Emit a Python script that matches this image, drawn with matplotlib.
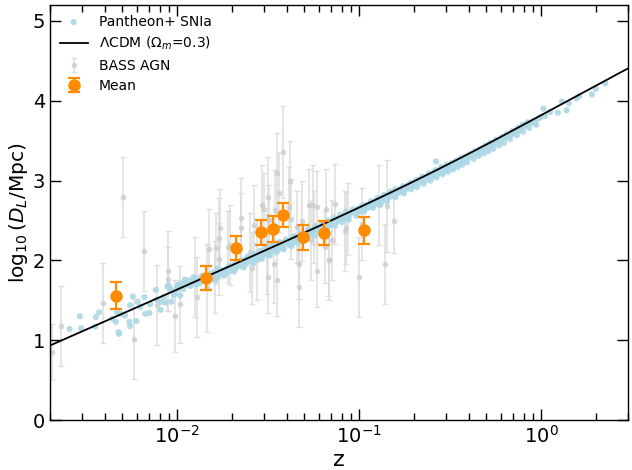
import numpy as np
import matplotlib
matplotlib.use("Agg")
import matplotlib.pyplot as plt

# ---------------- data ----------------
# Pantheon+ SNIa (redshift, log10 D_L / Mpc)
sn_z = [0.00256, 0.00292, 0.00297, 0.00357, 0.00372, 0.00354, 0.00439, 0.00460, 0.00467, 0.00477,
        0.00480, 0.00489, 0.00517, 0.00551, 0.00546, 0.00551, 0.00571, 0.00596, 0.00607, 0.00627,
        0.00661, 0.00668, 0.00705, 0.00710, 0.00763, 0.00773, 0.00810, 0.00816, 0.00842, 0.00862,
        0.00885, 0.00914, 0.00929, 0.00958, 0.00986, 0.0101, 0.00895, 0.0092, 0.0097, 0.0100,
        0.0104, 0.0104, 0.0110, 0.0115, 0.0123, 0.0132, 0.0137, 0.0152, 0.0159, 0.0162, 0.0166,
        0.0105, 0.011, 0.0115, 0.012, 0.0125, 0.013, 0.0135, 0.014, 0.0145, 0.015,
        0.0155, 0.016, 0.0165, 0.017, 0.0175, 0.018, 0.0185, 0.019, 0.0195, 0.020,
        0.0205, 0.021, 0.0215, 0.022, 0.023, 0.0235, 0.024, 0.025, 0.0255, 0.026,
        0.027, 0.0275, 0.028, 0.029, 0.0295, 0.030, 0.031, 0.032, 0.033, 0.034,
        0.035, 0.036, 0.037, 0.038, 0.039, 0.040, 0.042, 0.043, 0.045, 0.046,
        0.048, 0.050, 0.052, 0.054, 0.056, 0.058, 0.060, 0.062, 0.065, 0.068,
        0.070, 0.073, 0.076, 0.080, 0.083, 0.086, 0.090, 0.094, 0.098,
        0.0108, 0.0118, 0.0128, 0.0138, 0.0148, 0.0158, 0.0168, 0.0178, 0.0188, 0.0198,
        0.021, 0.0225, 0.024, 0.0258, 0.0275, 0.029, 0.031, 0.0325, 0.034, 0.036,
        0.038, 0.041, 0.044, 0.047, 0.051, 0.055, 0.059, 0.064, 0.069, 0.075,
        0.081, 0.088, 0.095, 0.0225, 0.032, 0.044, 0.063,
        0.100, 0.102, 0.105, 0.108, 0.110, 0.113, 0.115, 0.118, 0.120, 0.123,
        0.125, 0.128, 0.130, 0.133, 0.136, 0.140, 0.143, 0.146, 0.150, 0.153,
        0.156, 0.160, 0.163, 0.166, 0.170, 0.175, 0.180, 0.185, 0.190, 0.195,
        0.200, 0.205, 0.210, 0.215, 0.220, 0.225, 0.230, 0.235, 0.240, 0.245,
        0.250, 0.255, 0.260, 0.265, 0.270, 0.275, 0.280, 0.290, 0.300, 0.310,
        0.320, 0.330, 0.340, 0.350, 0.360, 0.370, 0.380, 0.390, 0.400, 0.420,
        0.440, 0.460, 0.480, 0.500, 0.520, 0.540, 0.560, 0.580, 0.600, 0.620,
        0.650, 0.680, 0.700, 0.730, 0.760, 0.800, 0.850, 0.900, 0.940, 1.030,
        1.050, 1.120, 1.235, 1.300, 1.380, 1.420, 1.570, 1.620, 1.900, 2.000, 2.250,
        0.101, 0.107, 0.112, 0.117, 0.122, 0.127, 0.132, 0.138, 0.144, 0.148,
        0.155, 0.162, 0.168, 0.172, 0.178, 0.183, 0.188, 0.198, 0.203, 0.212,
        0.218, 0.228, 0.238, 0.248, 0.258, 0.268, 0.278, 0.285, 0.295, 0.305,
        0.315, 0.325, 0.335, 0.345, 0.355, 0.365, 0.375, 0.385, 0.395, 0.410,
        0.430, 0.450, 0.470, 0.490, 0.510, 0.530, 0.550, 0.570, 0.590, 0.610,
        0.630, 0.660, 0.690, 0.720, 0.750, 0.780, 0.820, 0.870, 0.920, 0.970, 1.000, 0.264,
        0.0152, 0.0172, 0.0192, 0.0215, 0.0245, 0.0265, 0.0285, 0.0305, 0.0335, 0.0365,
        0.0395, 0.0435, 0.0475, 0.0525, 0.0575, 0.0625, 0.0675, 0.0725, 0.0785, 0.0845,
        0.0925, 0.104, 0.116, 0.126, 0.137, 0.149, 0.158, 0.174, 0.192, 0.207,
        0.222, 0.242, 0.262, 0.282, 0.302, 0.322, 0.342, 0.362, 0.382, 0.405,
        0.435, 0.465, 0.495, 0.525, 0.565, 0.605, 0.645, 0.695, 0.745, 0.790, 0.840,
        0.0162, 0.0182, 0.0205, 0.0232, 0.0262, 0.0292, 0.0322, 0.0352, 0.0385, 0.0425,
        0.0465, 0.0515, 0.0565, 0.0615, 0.0665, 0.0735, 0.0805, 0.0875, 0.0965, 0.106,
        0.119, 0.131, 0.142, 0.158, 0.176, 0.193, 0.208, 0.226, 0.246, 0.266,
        0.288, 0.308, 0.328, 0.348, 0.368, 0.392, 0.425, 0.455, 0.485, 0.515,
        0.545, 0.585, 0.625, 0.675, 0.735, 0.795, 0.860, 0.930]
sn_y = [1.14, 1.30, 1.15, 1.29, 1.35, 1.17, 1.27, 1.23, 1.35, 1.10,
        1.08, 1.33, 1.31, 1.44, 1.23, 1.175, 1.55, 1.24, 1.48, 1.42,
        1.54, 1.33, 1.34, 1.45, 1.63, 1.51, 1.38, 1.48, 1.54, 1.47,
        1.67, 1.65, 1.48, 1.56, 1.625, 1.69, 1.69, 1.625, 1.58, 1.67,
        1.71, 1.56, 1.76, 1.75, 1.79, 1.71, 1.81, 1.79, 1.85, 1.75, 1.90,
        1.66, 1.70, 1.69, 1.74, 1.72, 1.75, 1.78, 1.76, 1.79, 1.80,
        1.83, 1.81, 1.85, 1.84, 1.87, 1.85, 1.89, 1.88, 1.91, 1.92,
        1.95, 1.93, 1.97, 1.95, 1.99, 1.97, 2.02, 2.01, 2.05, 2.03,
        2.06, 2.04, 2.08, 2.07, 2.11, 2.10, 2.13, 2.12, 2.16, 2.15,
        2.18, 2.17, 2.21, 2.19, 2.23, 2.22, 2.26, 2.24, 2.29, 2.27,
        2.32, 2.31, 2.35, 2.34, 2.38, 2.37, 2.41, 2.40, 2.45, 2.44,
        2.48, 2.47, 2.52, 2.53, 2.57, 2.56, 2.60, 2.60, 2.64,
        1.64, 1.68, 1.70, 1.74, 1.76, 1.78, 1.80, 1.83, 1.85, 1.87,
        1.90, 1.93, 1.96, 1.99, 2.02, 2.04, 2.07, 2.10, 2.12, 2.14,
        2.16, 2.20, 2.23, 2.26, 2.30, 2.33, 2.36, 2.40, 2.44, 2.48,
        2.52, 2.56, 2.59, 2.00, 2.17, 2.30, 2.45,
        2.64, 2.66, 2.65, 2.69, 2.68, 2.70, 2.69, 2.73, 2.72, 2.74,
        2.75, 2.76, 2.77, 2.78, 2.80, 2.79, 2.82, 2.83, 2.82, 2.85,
        2.84, 2.87, 2.86, 2.89, 2.88, 2.91, 2.92, 2.94, 2.93, 2.96,
        2.97, 2.99, 2.98, 3.01, 3.00, 3.03, 3.02, 3.05, 3.04, 3.07,
        3.06, 3.09, 3.08, 3.11, 3.10, 3.13, 3.12, 3.15, 3.16, 3.17,
        3.19, 3.20, 3.22, 3.23, 3.25, 3.26, 3.28, 3.29, 3.31, 3.33,
        3.36, 3.38, 3.41, 3.42, 3.45, 3.46, 3.49, 3.50, 3.52, 3.54,
        3.56, 3.59, 3.61, 3.62, 3.66, 3.68, 3.72, 3.74, 3.70, 3.90,
        3.81, 3.86, 3.85, 3.99, 3.88, 3.97, 4.03, 4.06, 4.08, 4.15, 4.22,
        2.61, 2.64, 2.66, 2.69, 2.70, 2.73, 2.74, 2.77, 2.79, 2.80,
        2.82, 2.84, 2.86, 2.87, 2.89, 2.90, 2.92, 2.94, 2.95, 2.97,
        2.99, 3.00, 3.02, 3.04, 3.06, 3.08, 3.10, 3.11, 3.13, 3.15,
        3.16, 3.18, 3.19, 3.21, 3.22, 3.23, 3.25, 3.26, 3.28, 3.30,
        3.32, 3.35, 3.37, 3.39, 3.41, 3.43, 3.46, 3.47, 3.49, 3.51,
        3.53, 3.55, 3.58, 3.60, 3.63, 3.65, 3.69, 3.72, 3.75, 3.78, 3.80, 3.24,
        1.83, 1.88, 1.93, 1.98, 2.05, 2.08, 2.12, 2.15, 2.19, 2.23,
        2.26, 2.30, 2.34, 2.39, 2.43, 2.46, 2.50, 2.53, 2.57, 2.61,
        2.64, 2.69, 2.74, 2.78, 2.82, 2.86, 2.89, 2.93, 2.97, 3.01,
        3.05, 3.09, 3.13, 3.17, 3.20, 3.22, 3.25, 3.28, 3.30, 3.33,
        3.37, 3.40, 3.44, 3.47, 3.51, 3.54, 3.58, 3.62, 3.66, 3.70, 3.73,
        1.76, 1.81, 1.86, 1.91, 1.97, 2.02, 2.06, 2.10, 2.14, 2.18,
        2.22, 2.27, 2.31, 2.35, 2.38, 2.43, 2.48, 2.51, 2.56, 2.61,
        2.66, 2.70, 2.74, 2.79, 2.84, 2.89, 2.92, 2.96, 3.00, 3.04,
        3.08, 3.11, 3.14, 3.17, 3.20, 3.23, 3.27, 3.31, 3.34, 3.37,
        3.40, 3.44, 3.47, 3.52, 3.57, 3.61, 3.66, 3.71]

# BASS AGN (redshift, log10 D_L, error)
agn_z = [0.00205, 0.00231, 0.00391, 0.00501, 0.00581, 0.00653, 0.00773, 0.00885, 0.00895, 0.00971,
         0.0103, 0.01256, 0.0128, 0.0146, 0.0150, 0.0162, 0.0164, 0.0169, 0.0169, 0.0172,
         0.0190, 0.0196, 0.0224, 0.0225, 0.0250, 0.0257, 0.0264, 0.0273, 0.0293, 0.0299,
         0.0312, 0.0315, 0.0317, 0.0321, 0.0339, 0.0344, 0.0354, 0.0354, 0.0364, 0.0382,
         0.0410, 0.0418, 0.0423, 0.0454, 0.0468, 0.0469, 0.0488, 0.0533, 0.0541, 0.0557,
         0.0561, 0.0586, 0.0590, 0.0652, 0.0660, 0.0679, 0.0685, 0.0709, 0.0741, 0.0838,
         0.0849, 0.0863, 0.1003, 0.1034, 0.129, 0.138, 0.142, 0.155]
agn_y = [0.85, 1.18, 1.47, 2.79, 1.02, 2.12, 1.44, 1.87, 1.77, 1.30,
         1.45, 1.79, 1.54, 1.65, 2.14, 1.79, 2.15, 2.28, 2.02, 2.40,
         2.17, 2.19, 2.40, 2.53, 2.10, 1.90, 2.44, 2.00, 2.70, 2.65,
         2.08, 2.80, 1.79, 2.50, 1.96, 2.63, 3.10, 1.75, 2.85, 3.36,
         2.67, 2.99, 2.52, 2.42, 1.67, 1.96, 2.49, 2.70, 2.25, 2.69,
         2.42, 2.67, 1.87, 2.17, 2.65, 2.00, 2.00, 2.26, 2.71, 2.37,
         2.41, 2.52, 1.79, 2.46, 2.69, 1.95, 2.68, 2.49]
agn_err = [0.35, 0.50, 0.50, 0.50, 0.50, 0.50, 0.50, 0.50, 0.40, 0.45,
           0.48, 0.50, 0.50, 0.55, 0.50, 0.45, 0.45, 0.50, 0.45, 0.50,
           0.45, 0.50, 0.45, 0.50, 0.50, 0.45, 0.50, 0.50, 0.50, 0.45,
           0.50, 0.50, 0.45, 0.45, 0.50, 0.50, 0.50, 0.45, 0.50, 0.58,
           0.50, 0.50, 0.50, 0.45, 0.50, 0.45, 0.50, 0.45, 0.50, 0.50,
           0.45, 0.45, 0.45, 0.45, 0.50, 0.50, 0.45, 0.50, 0.50, 0.50,
           0.45, 0.45, 0.50, 0.45, 0.50, 0.50, 0.58, 0.40]

# Binned means
mean_z = [0.00462, 0.0144, 0.0210, 0.0290, 0.0337, 0.0381, 0.0491, 0.0637, 0.1061]
mean_y = [1.56, 1.775, 2.154, 2.354, 2.396, 2.566, 2.288, 2.346, 2.379]
mean_err = [0.17, 0.15, 0.155, 0.155, 0.165, 0.15, 0.16, 0.15, 0.17]

# LCDM model parameters
H0 = 70.0
Om = 0.3
c_kms = 299792.458

# ---------------- model curve ----------------
zz = np.logspace(np.log10(0.002), np.log10(3.0), 400)
zg = np.linspace(0, 3.0, 6001)
Ez = np.sqrt(Om * (1 + zg) ** 3 + (1 - Om))
Dc_grid = np.concatenate([[0], np.cumsum(0.5 * (1 / Ez[1:] + 1 / Ez[:-1]) * np.diff(zg))]) * c_kms / H0
Dc = np.interp(zz, zg, Dc_grid)
logDL = np.log10((1 + zz) * Dc)

# ---------------- plot ----------------
fig = plt.figure(figsize=(6.32, 4.70), dpi=100)
ax = fig.add_axes([50 / 632, 50 / 470, 578 / 632, 415 / 470])

ax.errorbar(agn_z, agn_y, yerr=agn_err, fmt='o', color='#cccccc', ms=4,
            mec='none', ecolor='#d9d9d9', elinewidth=1.2, capsize=2, alpha=0.8,
            label='BASS AGN', zorder=1)
ax.scatter(sn_z, sn_y, s=20, color='lightblue', alpha=0.9, edgecolors='none',
           label='Pantheon+ SNIa', zorder=2)
ax.plot(zz, logDL, color='black', lw=1.3, label=r'$\Lambda$CDM ($\Omega_m$=0.3)', zorder=3)
ax.errorbar(mean_z, mean_y, yerr=mean_err, fmt='o', color='darkorange', ms=8,
            elinewidth=1.6, capsize=4, capthick=1.6, label='Mean', zorder=4)

ax.set_xscale('log')
ax.set_xlim(0.002, 3.0)
ax.set_ylim(0, 5.2)
ax.set_xlabel('z', fontsize=16, labelpad=2)
ax.set_ylabel(r'$\log_{10}(D_L/\mathrm{Mpc})$', fontsize=14.5)
ax.yaxis.set_label_coords(-0.034, 0.5)

ax.tick_params(which='both', direction='in', top=True, right=True, labelsize=14)
ax.tick_params(which='major', length=8, width=1)
ax.tick_params(which='minor', length=5, width=1)
ax.set_yticks([0, 1, 2, 3, 4, 5])
ax.yaxis.set_minor_locator(matplotlib.ticker.NullLocator())
for sp in ax.spines.values():
    sp.set_linewidth(1.0)

handles, labels = ax.get_legend_handles_labels()
order = [labels.index(l) for l in ['Pantheon+ SNIa', r'$\Lambda$CDM ($\Omega_m$=0.3)', 'BASS AGN', 'Mean']]
ax.legend([handles[i] for i in order], [labels[i] for i in order],
          loc='upper left', frameon=False, fontsize=10, borderaxespad=0.3,
          labelspacing=0.45)

fig.savefig('out.png', dpi=100)
